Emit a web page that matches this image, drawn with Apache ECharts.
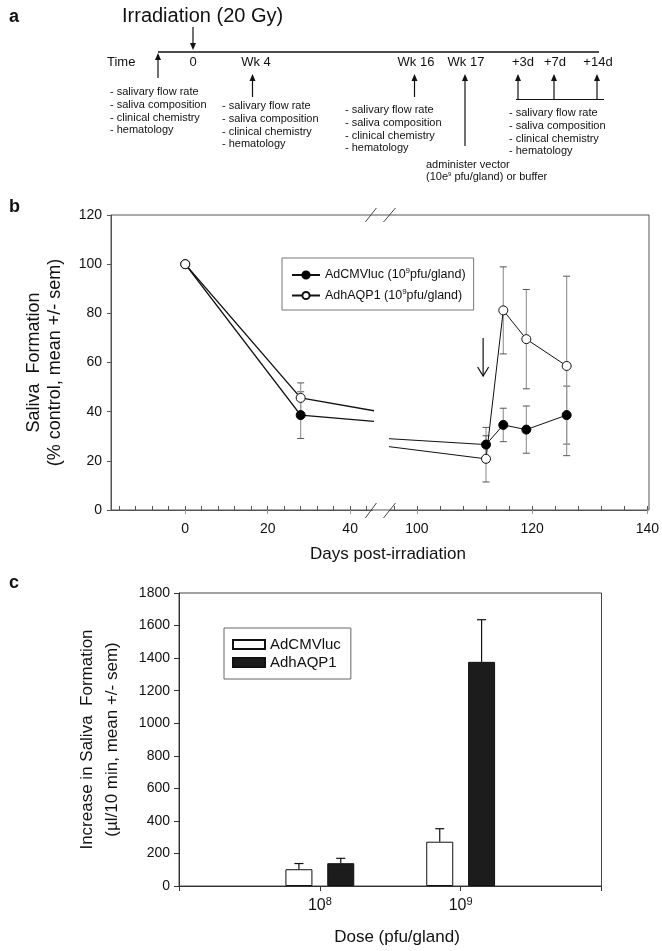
<!DOCTYPE html>
<html><head><meta charset="utf-8">
<script src="https://cdn.jsdelivr.net/npm/echarts@6/dist/echarts.min.js"></script>
<style>html,body{margin:0;padding:0;background:#fff}#c{width:662px;height:951px}</style>
</head><body><div id="c"></div>
<script>
// ---------- Panel a (timeline schematic) ----------
const timelineLabels = ['0', 'Wk 4', 'Wk 16', 'Wk 17', '+3d', '+7d', '+14d'];
const measureList = ['- salivary flow rate', '- saliva composition', '- clinical chemistry', '- hematology'];

// ---------- Panel b data ----------
const days = [0, 28, 112, 115, 119, 126];
const lucMean = [100, 38.6, 26.6, 34.6, 32.7, 38.6];
const lucSem = [0, 9.5, 7.0, 6.8, 9.6, 11.8];
const aqpMean = [100, 45.6, 20.8, 81.2, 69.5, 58.6];
const aqpSem = [0, 6.1, 9.4, 17.7, 20.2, 36.5];
const vectorArrow = [111.5, 70, 54.5];
const bLeftTicks = [-16, -12, -8, -4, 0, 4, 8, 12, 16, 20, 24, 28, 32, 36, 40, 44];
const bLeftLabels = [0, 20, 40];
const bRightTicks = [96, 100, 104, 108, 112, 116, 120, 124, 128, 132, 136, 140];
const bRightLabels = [100, 120, 140];

// ---------- Panel c data ----------
const doseLabels = ['', '10⁸', '10⁹', ''];
const cLucMean = [null, 103, 272, null];
const cLucSem = [null, 35, 80, null];
const cAqpMean = [null, 140, 1377, null];
const cAqpSem = [null, 30, 259, null];

const FF = '"Liberation Sans", Arial, Helvetica, sans-serif';
const TXT = '#111';
const AX = '#555';

// layout constants
const B = {L: 111, R: 649, T: 215, Bm: 510, gapL: 372.4, gapR: 389.5, xminL: -18, xmaxL: 45.4, xminR: 95.25, xmaxR: 140};
const C = {L: 179, R: 601.5, T: 593, Bm: 886};

const lucName = 'AdCMVluc (10⁹pfu/gland)';
const aqpName = 'AdhAQP1 (10⁹pfu/gland)';
const supMap = {'⁸': '8', '⁹': '9'};

function pts(means) { return days.map((d, i) => [d, means[i]]); }
function errData(means, sems, lo, hi) {
  const out = [];
  days.forEach((d, i) => { if (sems[i] > 0 && d >= lo && d <= hi) out.push([d, means[i] - sems[i], means[i] + sems[i]]); });
  return out;
}
function errRender(params, api) {
  const x = api.value(0), lo = api.value(1), hi = api.value(2);
  const a = api.coord([x, lo]), b = api.coord([x, hi]);
  const w = 3.5;
  return {type: 'group', children: [
    {type: 'line', shape: {x1: a[0], y1: a[1], x2: b[0], y2: b[1]}, style: {stroke: '#9a9a9a', lineWidth: 1.2}},
    {type: 'line', shape: {x1: a[0] - w, y1: a[1], x2: a[0] + w, y2: a[1]}, style: {stroke: '#555', lineWidth: 1}},
    {type: 'line', shape: {x1: b[0] - w, y1: b[1], x2: b[0] + w, y2: b[1]}, style: {stroke: '#555', lineWidth: 1}}
  ]};
}
function arrowRender(params, api) {
  const x = api.value(0);
  const a = api.coord([x, api.value(1)]), b = api.coord([x, api.value(2)]);
  return {type: 'group', children: [
    {type: 'line', shape: {x1: a[0], y1: a[1], x2: b[0], y2: b[1]}, style: {stroke: '#111', lineWidth: 1.2}},
    {type: 'polyline', shape: {points: [[b[0] - 5.5, b[1] - 9], [b[0], b[1]], [b[0] + 5.5, b[1] - 9]]}, style: {stroke: '#111', lineWidth: 1.2, fill: null}}
  ]};
}
function cErrRender(params, api) {
  const idx = api.value(0), m = api.value(1), s = api.value(2), si = api.value(3);
  const lay = api.barLayout({count: 2, barWidth: 27, barGap: '55%'});
  const off = lay[si].offsetCenter;
  const a = api.coord([idx, m]), b = api.coord([idx, m + s]);
  const x = a[0] + off, w = 4.5;
  return {type: 'group', children: [
    {type: 'line', shape: {x1: x, y1: a[1], x2: x, y2: b[1]}, style: {stroke: '#111', lineWidth: 1.2}},
    {type: 'line', shape: {x1: x - w, y1: b[1], x2: x + w, y2: b[1]}, style: {stroke: '#111', lineWidth: 1.2}}
  ]};
}
const cErr = [];
doseLabels.forEach((d, i) => {
  if (cLucMean[i] != null) cErr.push([i, cLucMean[i], cLucSem[i], 0]);
  if (cAqpMean[i] != null) cErr.push([i, cAqpMean[i], cAqpSem[i], 1]);
});

// ---------- graphics ----------
const G = [];
function txt(x, y, text, size, opt) {
  opt = opt || {};
  G.push({type: 'text', x: x, y: y, rotation: opt.rot || 0, z: 10,
    style: {text: text, fontSize: size, fontFamily: FF, fontWeight: opt.bold ? 'bold' : 'normal', fill: TXT,
      align: opt.align || 'left', textAlign: opt.align || 'left', verticalAlign: opt.va || 'middle', textVerticalAlign: opt.va || 'middle',
      lineHeight: opt.lh, rich: opt.rich}});
}
function seg(x1, y1, x2, y2, c, w) {
  G.push({type: 'line', z: 10, shape: {x1: x1, y1: y1, x2: x2, y2: y2}, style: {stroke: c || '#111', lineWidth: w || 1}});
}
function arrow(x, yFrom, yTo) {
  const dir = yTo < yFrom ? 1 : -1;
  seg(x, yFrom, x, yTo + dir * 5, '#111', 1.2);
  G.push({type: 'polygon', z: 10, shape: {points: [[x - 3, yTo + dir * 7], [x, yTo], [x + 3, yTo + dir * 7]]}, style: {fill: '#111'}});
}
// panel labels
txt(9, 17, 'a', 18, {bold: true});
txt(9, 207, 'b', 18, {bold: true});
txt(9, 583, 'c', 18, {bold: true});
// panel a
txt(122, 16, 'Irradiation (20 Gy)', 20);
arrow(193, 27, 50);
seg(158, 52, 599, 52, '#111', 1.3);
arrow(158, 78, 53);
txt(107, 62, 'Time', 13);
const tlX = [193, 256, 416, 466, 523, 555, 598];
timelineLabels.forEach((t, i) => txt(tlX[i], 62, t, 13, {align: 'center'}));
arrow(252.5, 97, 74); arrow(414.5, 97, 74); arrow(465, 146, 74);
arrow(518, 99, 74); arrow(554, 99, 74); arrow(597, 99, 74);
seg(516, 99.5, 604, 99.5, '#111', 1.2);
const listPos = [[110, 92], [222, 106], [345, 110], [509, 113]];
listPos.forEach(p => txt(p[0], p[1] - 6, measureList.join('\n'), 11, {va: 'top', lh: 12.6}));
txt(426, 165, 'administer vector', 11);
txt(426, 177, '(10e{s|9} pfu/gland) or buffer', 11, {rich: {s: {fontSize: 6, verticalAlign: 'top', fontFamily: FF, fill: TXT}}});
// panel b titles
txt(34, (B.T + B.Bm) / 2, 'Saliva  Formation', 18, {align: 'center', rot: Math.PI / 2});
txt(55, (B.T + B.Bm) / 2, '(% control, mean +/- sem)', 18, {align: 'center', rot: Math.PI / 2});
txt(388, 554, 'Days post-irradiation', 17, {align: 'center'});
// axis-break marks
[[B.gapL - 7, B.gapL + 4], [B.gapR - 6, B.gapR + 6]].forEach(s => {
  seg(s[0], B.Bm + 8, s[1], B.Bm - 7, '#444', 1);
  seg(s[0], B.T + 7, s[1], B.T - 7, '#444', 1);
});
// panel c titles
txt(87, (C.T + C.Bm) / 2, 'Increase in Saliva  Formation', 17, {align: 'center', rot: Math.PI / 2});
txt(112, (C.T + C.Bm) / 2, '(µl/10 min, mean +/- sem)', 17, {align: 'center', rot: Math.PI / 2});
txt(397, 937, 'Dose (pfu/gland)', 17, {align: 'center'});

const labelStyle = {fontSize: 14, fontFamily: FF, color: TXT};

const option = {
  animation: false,
  backgroundColor: '#fff',
  textStyle: {fontFamily: FF},
  grid: [
    {left: B.L, top: B.T, width: B.R - B.L, height: B.Bm - B.T, show: true, borderColor: AX, borderWidth: 1, backgroundColor: 'transparent'},
    {left: B.L, top: B.T, width: B.gapL - B.L, height: B.Bm - B.T},
    {left: B.gapR, top: B.T, width: B.R - B.gapR, height: B.Bm - B.T},
    {left: C.L, top: C.T, width: C.R - C.L, height: C.Bm - C.T, show: true, borderColor: '#444', borderWidth: 1, backgroundColor: 'transparent'}
  ],
  xAxis: [
    {gridIndex: 0, type: 'value', min: 0, max: 1, show: false},
    {gridIndex: 1, type: 'value', min: B.xminL, max: B.xmaxL, position: 'bottom',
      axisLine: {show: true, onZero: false, lineStyle: {color: AX}}, splitLine: {show: false},
      axisTick: {show: true, inside: true, length: 4, customValues: bLeftTicks, lineStyle: {color: AX}},
      axisLabel: {customValues: bLeftLabels, margin: 12, ...labelStyle}},
    {gridIndex: 1, type: 'value', min: B.xminL, max: B.xmaxL, position: 'bottom',
      axisLine: {show: false, onZero: false}, splitLine: {show: false}, axisLabel: {show: false},
      axisTick: {show: true, inside: false, length: 4, customValues: bLeftLabels, lineStyle: {color: '#999'}}},
    {gridIndex: 2, type: 'value', min: B.xminR, max: B.xmaxR, position: 'bottom',
      axisLine: {show: true, onZero: false, lineStyle: {color: AX}}, splitLine: {show: false},
      axisTick: {show: true, inside: true, length: 4, customValues: bRightTicks, lineStyle: {color: AX}},
      axisLabel: {customValues: bRightLabels, margin: 12, ...labelStyle}},
    {gridIndex: 2, type: 'value', min: B.xminR, max: B.xmaxR, position: 'bottom',
      axisLine: {show: false, onZero: false}, splitLine: {show: false}, axisLabel: {show: false},
      axisTick: {show: true, inside: false, length: 4, customValues: bRightLabels, lineStyle: {color: '#999'}}},
    {gridIndex: 3, type: 'category', data: doseLabels, boundaryGap: false,
      axisLine: {show: true, onZero: false, lineStyle: {color: '#333'}},
      axisTick: {show: true, length: 5, interval: 0, lineStyle: {color: '#333'}},
      axisLabel: {interval: 0, margin: 10, color: TXT,
        formatter: v => v ? '{b|' + v.slice(0, 2) + '}{s|' + supMap[v.slice(2)] + '}' : '',
        rich: {b: {fontSize: 16, fontFamily: FF, color: TXT, lineHeight: 20}, s: {fontSize: 11, fontFamily: FF, color: TXT, verticalAlign: 'top'}}}}
  ],
  yAxis: [
    {gridIndex: 0, type: 'value', min: 0, max: 1, show: false},
    {gridIndex: 1, type: 'value', min: 0, max: 120, interval: 20, position: 'left',
      axisLine: {show: true, onZero: false, lineStyle: {color: AX}}, splitLine: {show: false},
      axisTick: {show: true, inside: false, length: 4, lineStyle: {color: AX}},
      axisLabel: {margin: 9, ...labelStyle}},
    {gridIndex: 2, type: 'value', min: 0, max: 120, interval: 20, show: false, axisLine: {onZero: false}},
    {gridIndex: 3, type: 'value', min: 0, max: 1800, interval: 200, position: 'left',
      axisLine: {show: true, onZero: false, lineStyle: {color: '#333'}}, splitLine: {show: false},
      axisTick: {show: true, inside: false, length: 5, lineStyle: {color: '#333'}},
      axisLabel: {margin: 9, formatter: v => String(v), ...labelStyle}}
  ],
  legend: [
    {data: [lucName, aqpName], orient: 'vertical', left: 282, top: 258, padding: [9, 8, 8, 9], itemGap: 6,
      itemWidth: 28, itemHeight: 9, borderColor: '#777', borderWidth: 1, selectedMode: false,
      formatter: n => { const i = n.indexOf('⁹'); return '{n|' + n.slice(0, i) + '}{s|9}{n|' + n.slice(i + 1) + '}'; },
      textStyle: {fontSize: 12.5, fontFamily: FF, color: TXT,
        rich: {n: {fontSize: 12.5, fontFamily: FF, color: TXT, lineHeight: 16}, s: {fontSize: 8, fontFamily: FF, color: TXT, verticalAlign: 'top'}}}},
    {data: ['AdCMVluc', 'AdhAQP1'], orient: 'vertical', left: 224, top: 628, padding: [9, 10, 9, 8], itemGap: 3,
      itemWidth: 32, itemHeight: 9, icon: 'rect', borderColor: '#666', borderWidth: 1, selectedMode: false,
      textStyle: {fontSize: 15, fontFamily: FF, color: TXT}}
  ],
  series: [
    {type: 'custom', xAxisIndex: 1, yAxisIndex: 1, renderItem: errRender, data: errData(lucMean, lucSem, B.xminL, B.xmaxL), encode: {x: 0, y: [1, 2]}, z: 1, silent: true},
    {type: 'custom', xAxisIndex: 1, yAxisIndex: 1, renderItem: errRender, data: errData(aqpMean, aqpSem, B.xminL, B.xmaxL), encode: {x: 0, y: [1, 2]}, z: 1, silent: true},
    {type: 'custom', xAxisIndex: 3, yAxisIndex: 2, renderItem: errRender, data: errData(lucMean, lucSem, B.xminR, B.xmaxR), encode: {x: 0, y: [1, 2]}, z: 1, silent: true},
    {type: 'custom', xAxisIndex: 3, yAxisIndex: 2, renderItem: errRender, data: errData(aqpMean, aqpSem, B.xminR, B.xmaxR), encode: {x: 0, y: [1, 2]}, z: 1, silent: true},
    {type: 'line', name: lucName, xAxisIndex: 1, yAxisIndex: 1, data: pts(lucMean), clip: true, symbol: 'circle', symbolSize: 9, z: 3,
      lineStyle: {color: '#111', width: 1.4}, itemStyle: {color: '#000', borderColor: '#000', borderWidth: 1}},
    {type: 'line', name: aqpName, xAxisIndex: 1, yAxisIndex: 1, data: pts(aqpMean), clip: true, symbol: 'circle', symbolSize: 9, z: 3,
      lineStyle: {color: '#111', width: 1.4}, itemStyle: {color: '#fff', borderColor: '#111', borderWidth: 1}},
    {type: 'line', name: lucName, xAxisIndex: 3, yAxisIndex: 2, data: pts(lucMean), clip: true, symbol: 'circle', symbolSize: 9, z: 3,
      lineStyle: {color: '#111', width: 1}, itemStyle: {color: '#000', borderColor: '#000', borderWidth: 1}},
    {type: 'line', name: aqpName, xAxisIndex: 3, yAxisIndex: 2, data: pts(aqpMean), clip: true, symbol: 'circle', symbolSize: 9, z: 3,
      lineStyle: {color: '#111', width: 1}, itemStyle: {color: '#fff', borderColor: '#111', borderWidth: 1}},
    {type: 'custom', xAxisIndex: 3, yAxisIndex: 2, renderItem: arrowRender, data: [vectorArrow], encode: {x: 0, y: [1, 2]}, z: 4, silent: true},
    {type: 'bar', name: 'AdCMVluc', xAxisIndex: 5, yAxisIndex: 3, data: cLucMean, barWidth: 27, barGap: '55%',
      itemStyle: {color: '#fff', borderColor: '#111', borderWidth: 1}},
    {type: 'bar', name: 'AdhAQP1', xAxisIndex: 5, yAxisIndex: 3, data: cAqpMean, barWidth: 27, barGap: '55%',
      itemStyle: {color: '#1c1c1c', borderColor: '#111', borderWidth: 1}},
    {type: 'custom', xAxisIndex: 5, yAxisIndex: 3, renderItem: cErrRender, data: cErr, encode: {x: 0, y: 1}, z: 4, silent: true}
  ],
  graphic: G
};
const chart = echarts.init(document.getElementById('c'), null, {renderer: 'canvas'});
chart.setOption(option);
</script></body></html>
